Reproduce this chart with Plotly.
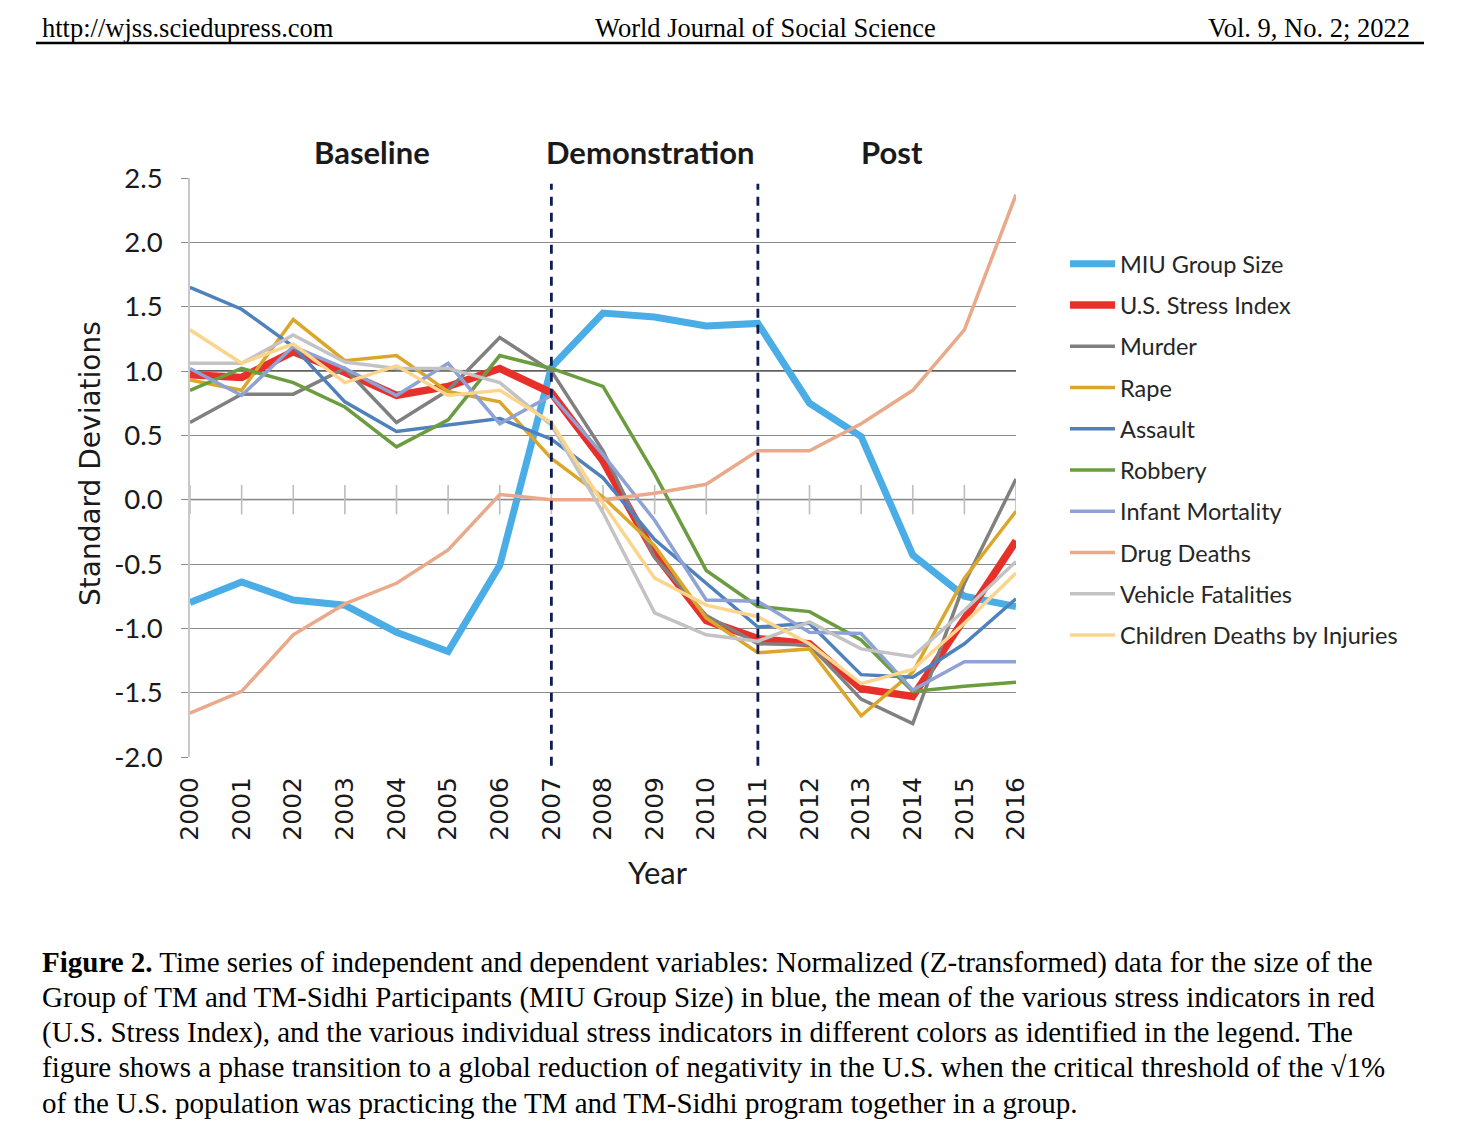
import plotly.graph_objects as go

years = list(range(2000, 2017))
year_labels = [str(y) for y in years]

miu_group_size = [-0.80, -0.64, -0.78, -0.82, -1.03, -1.18, -0.51, 1.03, 1.45, 1.42, 1.35, 1.37, 0.75, 0.49, -0.43, -0.75, -0.83]
us_stress_index = [0.97, 0.95, 1.15, 0.99, 0.81, 0.88, 1.02, 0.83, 0.30, -0.42, -0.94, -1.08, -1.12, -1.47, -1.53, -0.92, -0.32]
murder = [0.60, 0.82, 0.82, 1.02, 0.60, 0.85, 1.26, 1.00, 0.38, -0.45, -0.90, -1.12, -1.13, -1.55, -1.74, -0.65, 0.16]
rape = [0.93, 0.85, 1.40, 1.08, 1.12, 0.84, 0.76, 0.32, 0.02, -0.36, -0.92, -1.19, -1.16, -1.68, -1.34, -0.61, -0.09]
assault = [1.65, 1.48, 1.19, 0.76, 0.53, 0.58, 0.63, 0.47, 0.17, -0.31, -0.65, -0.99, -0.96, -1.36, -1.38, -1.12, -0.77]
robbery = [0.85, 1.02, 0.91, 0.72, 0.41, 0.62, 1.12, 1.02, 0.88, 0.20, -0.55, -0.83, -0.87, -1.09, -1.49, -1.45, -1.42]
infant_mortality = [1.02, 0.81, 1.19, 1.02, 0.81, 1.06, 0.59, 0.81, 0.35, -0.16, -0.78, -0.79, -1.03, -1.04, -1.48, -1.26, -1.26]
drug_deaths = [-1.66, -1.49, -1.05, -0.81, -0.65, -0.39, 0.04, 0.00, 0.00, 0.05, 0.12, 0.38, 0.38, 0.59, 0.85, 1.32, 2.37]
vehicle_fatalities = [1.06, 1.06, 1.28, 1.07, 1.02, 1.02, 0.91, 0.58, -0.10, -0.88, -1.05, -1.10, -0.95, -1.16, -1.22, -0.86, -0.48]
children_deaths = [1.32, 1.06, 1.21, 0.91, 1.04, 0.81, 0.85, 0.60, -0.03, -0.61, -0.82, -0.91, -1.12, -1.43, -1.32, -0.96, -0.57]

y_ticks = [-2.0, -1.5, -1.0, -0.5, 0.0, 0.5, 1.0, 1.5, 2.0, 2.5]
y_tick_labels = ["-2.0", "-1.5", "-1.0", "-0.5", "0.0", "0.5", "1.0", "1.5", "2.0", "2.5"]

phase_boundaries = [2007, 2011]
phase_names = ["Baseline", "Demonstration", "Post"]
phase_centers = [2003.53, 2008.91, 2013.6]

series = [
    ("MIU Group Size", miu_group_size, "#4BADE6", 7),
    ("U.S. Stress Index", us_stress_index, "#E8302A", 7.5),
    ("Murder", murder, "#808080", 3.5),
    ("Rape", rape, "#DBA72B", 3.5),
    ("Assault", assault, "#4F81BD", 3.5),
    ("Robbery", robbery, "#6B9D40", 3.5),
    ("Infant Mortality", infant_mortality, "#8FA2D5", 3.5),
    ("Drug Deaths", drug_deaths, "#E9A98A", 3.5),
    ("Vehicle Fatalities", vehicle_fatalities, "#C3C3C3", 3.5),
    ("Children Deaths by Injuries", children_deaths, "#FCD58C", 3.5),
]

# the page body has an 8px margin; work in reference-page pixels and shift
OFF = 8
W, H = 1458 - 2 * OFF, 1140 - 2 * OFF
PL, PR, PT, PB = 190, 1016, 178, 757   # plot area in reference-page pixels


def px2x(px):
    return (px - PL) / (PR - PL)


def py2y(py):
    return (PB - py) / (PB - PT)


fig = go.Figure()

# horizontal category axis crossing at zero, with cross tick marks
AXIS_CROSS = 0.0
fig.add_trace(go.Scatter(
    x=years, y=[AXIS_CROSS] * len(years), mode="markers", showlegend=False, hoverinfo="skip",
    marker=dict(symbol="line-ns", size=21, line=dict(color="#bdbdbd", width=1.6)),
))

for i, (name, vals, color, width) in enumerate(series):
    fig.add_trace(go.Scatter(
        x=years, y=vals, mode="lines", name=name, legendgroup=f"g{i}",
        line=dict(color=color, width=width),
    ))

sans = "Lato, 'Open Sans', sans-serif"
serif = "'Liberation Serif', 'Times New Roman', serif"

fig.update_layout(
    width=W, height=H, autosize=False,
    margin=dict(l=PL - OFF, r=(W + OFF) - PR, t=PT - OFF, b=(H + OFF) - PB),
    paper_bgcolor="white", plot_bgcolor="white",
    showlegend=True,
    legend=dict(
        x=px2x(1065), y=py2y(242), xanchor="left", yanchor="top",
        font=dict(family=sans, size=23.5, color="#262626"),
        tracegroupgap=7.7, itemwidth=45, bgcolor="rgba(0,0,0,0)",
    ),
    xaxis=dict(
        range=[2000, 2016], tickvals=years, ticktext=year_labels,
        tickangle=-90, showgrid=False, showline=False, zeroline=False, ticks="",
        tickfont=dict(family="DejaVu Sans", size=25, color="#1a1a1a"),
        ticklabelstandoff=14,
    ),
    yaxis=dict(
        range=[-2.0, 2.5], tickvals=y_ticks, ticktext=y_tick_labels,
        showgrid=True, gridcolor="#8a8a8a", gridwidth=1.3,
        zeroline=False, showline=True, linecolor="#c8c8c8", linewidth=1.5,
        ticks="outside", ticklen=7, tickcolor="#8a8a8a",
        tickfont=dict(family=sans, size=27.5, color="#1a1a1a"),
        ticklabelstandoff=13,
    ),
)

# light axis line at zero, darker reference line at 1.0 (between grid and traces)
fig.add_shape(type="line", xref="paper", yref="y", x0=0, x1=1, y0=AXIS_CROSS, y1=AXIS_CROSS,
              line=dict(color="#c4c4c4", width=2.2), layer="between")
fig.add_shape(type="line", xref="paper", yref="y", x0=0, x1=1, y0=1.0, y1=1.0,
              line=dict(color="#2a2a2a", width=1.3), layer="between")

# phase boundaries
for b in phase_boundaries:
    fig.add_shape(type="line", xref="x", yref="paper", x0=b, x1=b, y0=-0.015, y1=0.99,
                  line=dict(color="#0E1E55", width=2.8, dash="9px,7px"))

for name, cx in zip(phase_names, phase_centers):
    fig.add_annotation(x=cx, y=py2y(152), xref="x", yref="paper", text=f"<b>{name}</b>",
                       showarrow=False, font=dict(family=sans, size=31, color="#1a1a1a"),
                       xanchor="center", yanchor="middle")

# axis titles
fig.add_annotation(x=px2x(90), y=py2y(464), xref="paper", yref="paper", text="Standard Deviations",
                   textangle=-90, showarrow=False, font=dict(family="DejaVu Sans", size=28, color="#1a1a1a"),
                   xanchor="center", yanchor="middle")
fig.add_annotation(x=px2x(658), y=py2y(872), xref="paper", yref="paper", text="Year",
                   showarrow=False, font=dict(family=sans, size=31, color="#1a1a1a"),
                   xanchor="center", yanchor="middle")

# header
hdr = dict(family=serif, size=26.5, color="black")
fig.add_annotation(x=px2x(40), y=py2y(28), xref="paper", yref="paper", text="http://wjss.sciedupress.com",
                   showarrow=False, font=hdr, xanchor="left", yanchor="middle")
fig.add_annotation(x=px2x(765), y=py2y(28), xref="paper", yref="paper", text="World Journal of Social Science",
                   showarrow=False, font=hdr, xanchor="center", yanchor="middle")
fig.add_annotation(x=px2x(1412), y=py2y(28), xref="paper", yref="paper", text="Vol. 9, No. 2; 2022",
                   showarrow=False, font=hdr, xanchor="right", yanchor="middle")
fig.add_shape(type="line", xref="paper", yref="paper", x0=px2x(36), x1=px2x(1424), y0=py2y(43), y1=py2y(43),
              line=dict(color="black", width=2.5))

caption_lines = [
    "<b>Figure 2.</b> Time series of independent and dependent variables: Normalized (Z-transformed) data for the size of the",
    "Group of TM and TM-Sidhi Participants (MIU Group Size) in blue, the mean of the various stress indicators in red",
    "(U.S. Stress Index), and the various individual stress indicators in different colors as identified in the legend. The",
    "figure shows a phase transition to a global reduction of negativity in the U.S. when the critical threshold of the \u221a1%",
    "of the U.S. population was practicing the TM and TM-Sidhi program together in a group.",
]
caption_y = [962, 997, 1032, 1067, 1103]
for line, yy in zip(caption_lines, caption_y):
    fig.add_annotation(x=px2x(40), y=py2y(yy), xref="paper", yref="paper", text=line,
                       showarrow=False, font=dict(family=serif, size=29, color="black"),
                       xanchor="left", yanchor="middle")

fig.write_html("out.html")
